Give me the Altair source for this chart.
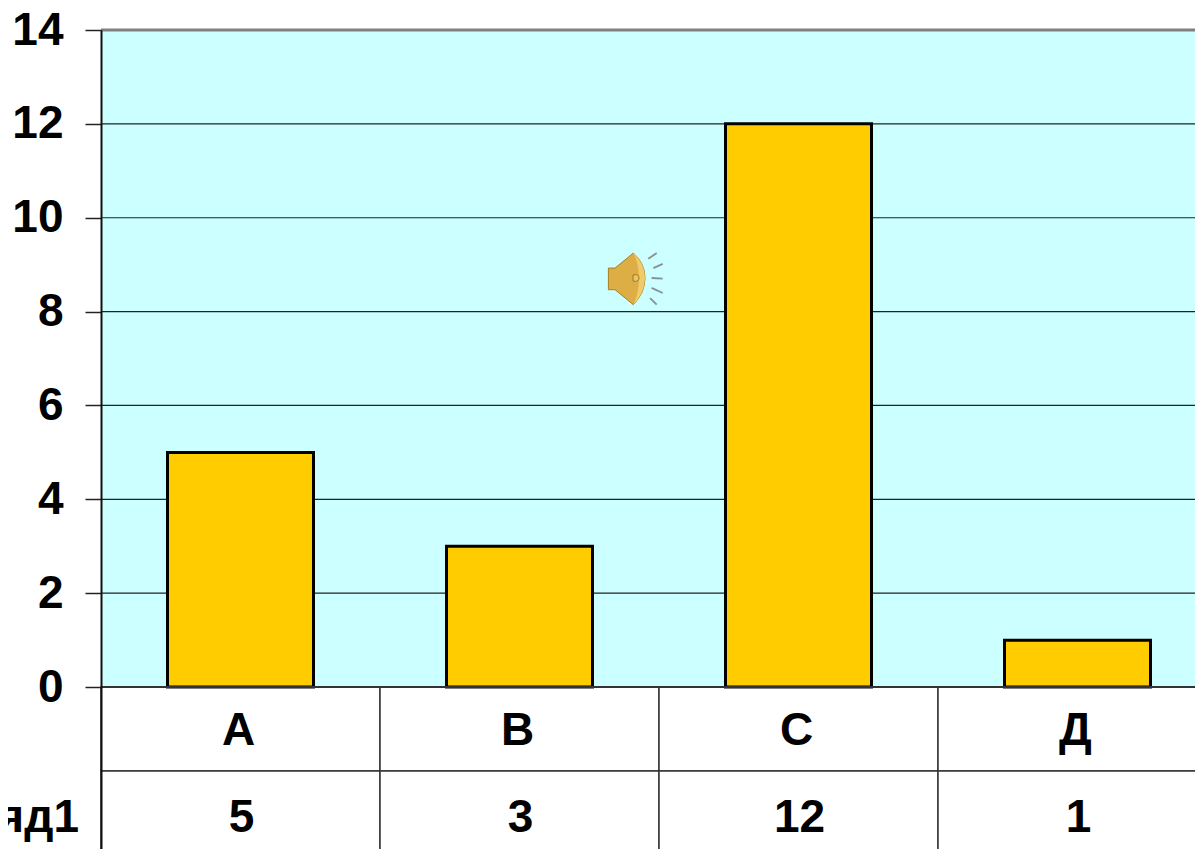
import altair as alt
import pandas as pd

categories = ["А", "В", "С", "Д"]
values = [5, 3, 12, 1]
y_ticks = [0, 2, 4, 6, 8, 10, 12, 14]
grid_values = [0, 2, 4, 6, 8, 10, 12]
series_name = "Ряд1"

# rows of the data table drawn under the plot, in y-axis units
row_tops = [0, -1.79]
row_bottoms = [-1.79, -3.8]
cat_row_y = -0.93
val_row_y = -2.79

FONT = "Liberation Sans"
TEXT_SIZE = 46

df = pd.DataFrame({"cat": categories, "val": values, "zero": [0] * 4, "top": [14] * 4,
                   "caty": [cat_row_y] * 4, "valy": [val_row_y] * 4})
cells = pd.DataFrame([{"cat": c, "t": t, "b": b} for c in categories
                      for t, b in zip(row_tops, row_bottoms)])

xs = alt.X("cat:N", sort=categories, axis=None,
           scale=alt.Scale(domain=categories, range=[0, 1116], paddingInner=0, paddingOuter=0))
ys = alt.Scale(domain=[-3.45, 14], nice=False, zero=False)
yaxis = alt.Axis(values=y_ticks, title=None, grid=False, domain=True, domainColor="#111111",
                 domainWidth=2, tickColor="#222222", tickWidth=1.5, tickSize=16, labelPadding=22,
                 labelFont=FONT, labelFontWeight="bold", labelFontSize=TEXT_SIZE, labelColor="black",
                 labelOverlap=False, format="d", zindex=1)

cell_layer = alt.Chart(cells).mark_rect(fill="white", stroke="#333333", strokeWidth=1.5).encode(
    x=xs, y=alt.Y("t:Q", scale=ys, axis=yaxis), y2="b:Q")

bg = alt.Chart(df).mark_rect(fill="#CCFFFF").encode(x=xs, y=alt.Y("zero:Q", scale=ys), y2="top:Q")

grid = alt.Chart(pd.DataFrame({"g": grid_values})).mark_rule(color="#222222", strokeWidth=1.2).encode(
    y=alt.Y("g:Q", scale=ys))

top_line = alt.Chart(pd.DataFrame({"g": [14]})).mark_rule(color="#808080", strokeWidth=3).encode(
    y=alt.Y("g:Q", scale=ys))

bars = alt.Chart(df).mark_bar(size=146, fill="#FFCC00", stroke="black", strokeWidth=3).encode(
    x=xs, y=alt.Y("val:Q", scale=ys), y2="zero:Q")

base_line = alt.Chart(pd.DataFrame({"g": [0]})).mark_rule(color="#333333", strokeWidth=2).encode(
    y=alt.Y("g:Q", scale=ys))

cat_text = alt.Chart(df).mark_text(font=FONT, fontWeight="bold", fontSize=TEXT_SIZE, color="black",
                                   baseline="middle", dx=-2).encode(
    x=xs, y=alt.Y("caty:Q", scale=ys), text="cat:N")
val_text = alt.Chart(df).mark_text(font=FONT, fontWeight="bold", fontSize=TEXT_SIZE, color="black",
                                   baseline="middle", dx=1).encode(
    x=xs, y=alt.Y("valy:Q", scale=ys), text="val:Q")
row_label = alt.Chart(pd.DataFrame({"t": [series_name], "y": [val_row_y]})).mark_text(
    font=FONT, fontWeight="bold", fontSize=TEXT_SIZE, color="black", align="right", baseline="middle").encode(
    x=alt.value(-22), y=alt.Y("y:Q", scale=ys), text="t:N")

# loudspeaker icon sitting on the slide
HORN = "M-.72-.33 L-.5-.33 L.11-.83 Q.5-.5 .5 0 Q.5 .5 .11 .89 L-.5 .39 L-.72 .39 Z"
RIM = "M.11-.83 Q.5-.5 .5 0 Q.5 .5 .11 .89 Q.3 .5 .3 0 Q.3-.5 .11-.83 Z"
CAP = "M.1-.1 Q.3-.15 .3 0 Q.3 .15 .1 .1 Z"
WAVES = ("M.61-.64 L.89-.83 M.78-.33 L1.09-.47 M.72 0 L1.09 .02 "
         "M.72 .33 L1.09 .5 M.67 .67 L.89 .89")
icon_data = pd.DataFrame({"i": [0]})
def icon(shape, **kw):
    return alt.Chart(icon_data).mark_point(shape=shape, size=3600, **kw).encode(
        x=alt.value(529), y=alt.value(248))
horn = icon(HORN, filled=True, fill="#DDAE45", stroke="#A97F20", strokeWidth=1, opacity=1)
rim = icon(RIM, filled=True, fill="#EFCB6C", opacity=1)
cap = icon(CAP, filled=True, fill="#E9C565", stroke="#9C7A22", strokeWidth=1, opacity=1)
waves = icon(WAVES, filled=False, stroke="#8A8F8F", strokeWidth=1.8, opacity=1)

chart = alt.layer(cell_layer, bg, grid, top_line, bars, base_line, cat_text, val_text, row_label,
                  horn, rim, cap, waves).properties(
    width=1094, height=819,
    autosize=alt.AutoSizeParams(type="none"),
    padding={"left": 93, "top": 22, "right": 0, "bottom": 0},
    background="white",
).configure_view(stroke=None)

chart.save("out.html", embed_options={"renderer": "svg", "actions": False})
